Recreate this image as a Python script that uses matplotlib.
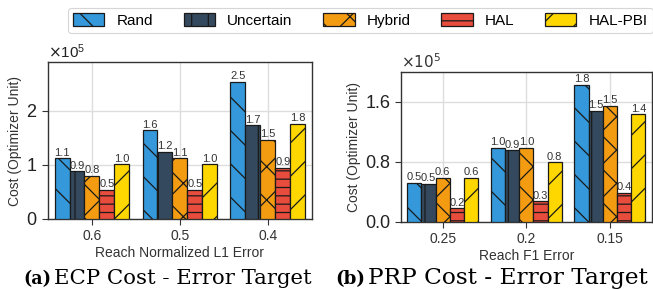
import matplotlib
matplotlib.use("Agg")
import matplotlib.pyplot as plt
import numpy as np
from matplotlib.ticker import ScalarFormatter

plt.rcParams['font.family'] = ['Liberation Sans', 'DejaVu Sans']
plt.rcParams['hatch.linewidth'] = 0.9

methods = ["Rand", "Uncertain", "Hybrid", "HAL", "HAL-PBI"]
colors = ["#3498db", "#34495e", "#f39c12", "#e74c3c", "#ffd700"]
hatches = ["\\", "|", "x", "--", "/"]

ecp_targets = ["0.6", "0.5", "0.4"]
ecp_rand = [1.12e5, 1.64e5, 2.53e5]
ecp_uncertain = [0.88e5, 1.24e5, 1.73e5]
ecp_hybrid = [0.80e5, 1.12e5, 1.46e5]
ecp_hal = [0.54e5, 0.54e5, 0.95e5]
ecp_halpbi = [1.01e5, 1.01e5, 1.76e5]

prp_targets = ["0.25", "0.2", "0.15"]
prp_rand = [0.52e5, 0.98e5, 1.82e5]
prp_uncertain = [0.50e5, 0.95e5, 1.48e5]
prp_hybrid = [0.58e5, 0.98e5, 1.54e5]
prp_hal = [0.18e5, 0.27e5, 0.38e5]
prp_halpbi = [0.58e5, 0.79e5, 1.43e5]

W, H = 653, 290
fig = plt.figure(figsize=(W / 100, H / 100), dpi=100)
axL = fig.add_axes([0.0735, 0.245, 0.404, 0.541])
axR = fig.add_axes([0.614, 0.2355, 0.384, 0.515])

def draw(ax, cats, series, ylim, yticks, xlabel):
    x = np.arange(len(cats))
    w = 0.17
    handles = []
    for i, (vals, c, h, name) in enumerate(zip(series, colors, hatches, methods)):
        b = ax.bar(x + (i - 2) * w, vals, w, color=c, edgecolor="#1a1a1a",
                   hatch=h, linewidth=0.9, label=name, zorder=3)
        ax.bar_label(b, labels=[f"{v/1e5:.1f}" for v in vals], fontsize=8,
                     color="#333333", padding=0.5)
        handles.append(b)
    ax.set_xlim(-0.5, 2.5)
    ax.set_ylim(*ylim)
    ax.set_xticks(x)
    ax.set_xticklabels(cats, fontsize=10)
    ax.set_yticks(yticks)
    fmt = ScalarFormatter(useMathText=True)
    fmt.set_powerlimits((0, 0))
    ax.yaxis.set_major_formatter(fmt)
    ax.yaxis.get_offset_text().set_fontsize(11)
    ax.yaxis.get_offset_text().set_color("#333333")
    ax.tick_params(axis='y', labelsize=13, colors="#333333", length=4, width=0.8)
    ax.tick_params(axis='x', colors="#333333", length=4, width=0.8)
    ax.tick_params(axis='y', labelcolor="#222222")
    ax.grid(True, color="#dddddd", linewidth=1, zorder=0)
    ax.set_axisbelow(True)
    for s in ax.spines.values():
        s.set_color("#333333")
        s.set_linewidth(1.0)
    ax.set_xlabel(xlabel, fontsize=10, color="#333333", labelpad=2)
    ax.set_ylabel("Cost (Optimizer Unit)", fontsize=10, color="#333333", labelpad=3)
    return handles

hL = draw(axL, ecp_targets, [ecp_rand, ecp_uncertain, ecp_hybrid, ecp_hal, ecp_halpbi],
          (0, 2.9e5), [0, 1e5, 2e5], "Reach Normalized L1 Error")
draw(axR, prp_targets, [prp_rand, prp_uncertain, prp_hybrid, prp_hal, prp_halpbi],
     (0, 1.99e5), [0, 0.8e5, 1.6e5], "Reach F1 Error")
axR.yaxis.set_major_formatter(plt.FuncFormatter(lambda v, p: f"{v/1e5:.1f}"))
axR.text(0.0, 1.01, r"$\times10^5$", transform=axR.transAxes, fontsize=11,
         color="#333333", ha="left", va="bottom")

leg = fig.legend(handles=hL, labels=methods, loc="center", ncol=5,
                 bbox_to_anchor=(0.552, 0.929), fontsize=11, frameon=True,
                 handlelength=2.05, handleheight=0.85, columnspacing=2.0,
                 handletextpad=0.8, borderpad=0.35)
leg.get_frame().set_edgecolor("#cccccc")
leg.get_frame().set_linewidth(0.8)

# captions fitted to the reference extents (pixels)
serif = "DejaVu Serif"
fig.canvas.draw()
r = fig.canvas.get_renderer()
base_y = 0.022

def caption(tag, body, x0, x_body, x_end):
    t = fig.text(x0 / W, base_y, tag, fontsize=14.5, fontweight="bold",
                 family=serif, ha="left", va="baseline")
    b = fig.text(x_body / W, base_y, body, fontsize=14.5, family=serif,
                 ha="left", va="baseline")
    wb = b.get_window_extent(r).width
    b.set_fontsize(14.5 * (x_end - x_body) / wb)
    wt = t.get_window_extent(r).width
    t.set_fontsize(14.5 * (x_body - 3 - x0) / wt)

caption("(a)", "ECP Cost - Error Target", 23, 54, 312)
caption("(b)", "PRP Cost - Error Target", 335, 368, 650)

fig.savefig("out.png", dpi=100)
